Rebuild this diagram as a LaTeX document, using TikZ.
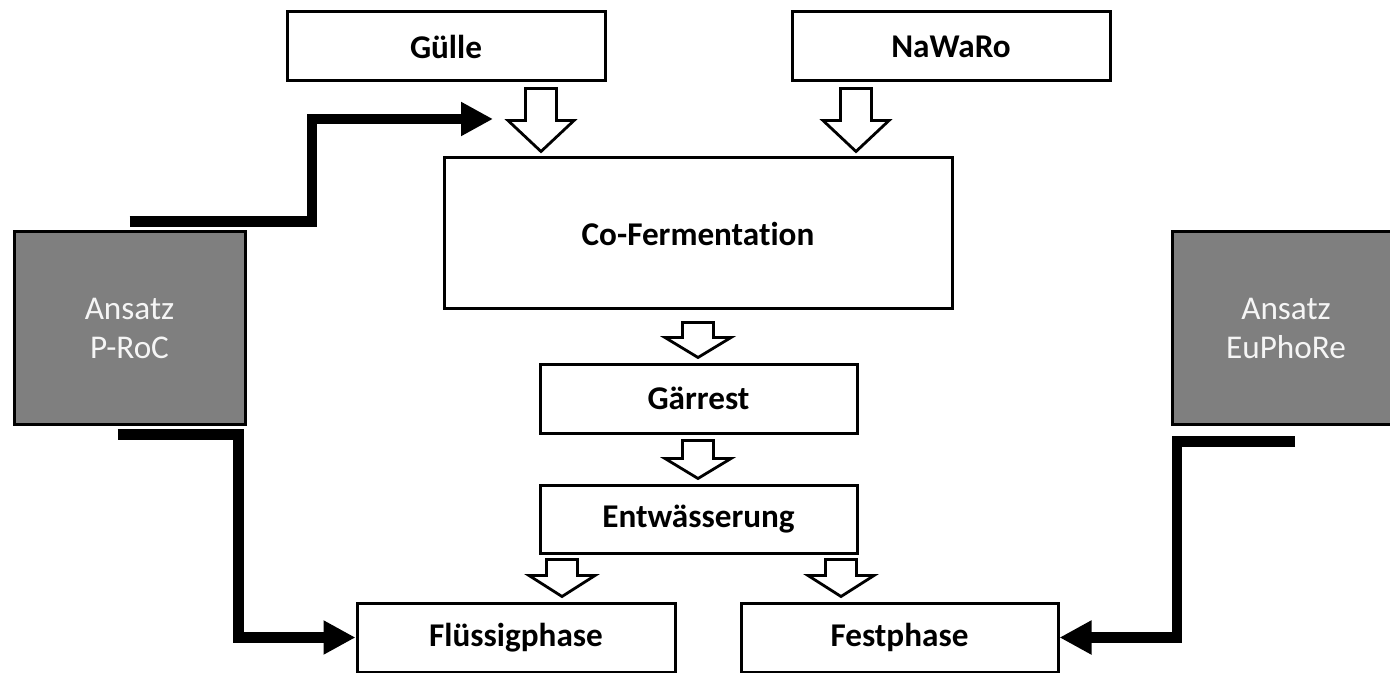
\documentclass[tikz,border=0pt]{standalone}
\usepackage{fontspec}
\setmainfont{Carlito}[Ligatures=NoCommon]
\usetikzlibrary{calc,arrows.meta}
\definecolor{ansatzgray}{RGB}{127,127,127}
\definecolor{ansatztext}{RGB}{245,245,245}
% hollow block arrow: from node, to node, x position, gap at top, head length
\newcommand\hollowarrow[5]{%
  \path (#1.south -| #3) ++(0,#4) coordinate (ha a) (#2.north -| #3) ++(0,-5) coordinate (ha b);
  \draw[hollow] ($(ha a)+(-15.5,0)$) -- ($(ha a)+(15.5,0)$) -- ($(ha b)+(15.5,-#5)$) -- ($(ha b)+(33,-#5)$)
    -- (ha b) -- ($(ha b)+(-33,-#5)$) -- ($(ha b)+(-15.5,-#5)$) -- cycle;}
\begin{document}
\begin{tikzpicture}[x=0.5pt, y=-0.5pt, line join=miter,
  box/.style={draw, line width=1.5pt, fill=white, inner sep=0pt, font=\fontsize{16.6}{19.5}\selectfont\bfseries},
  ansatz/.style={draw, line width=1.5pt, fill=ansatzgray, text=ansatztext, align=center, inner sep=0pt,
    minimum height=96pt, font=\fontsize{16.6}{19.5}\selectfont},
  hollow/.style={line width=1.4pt, fill=white},
  feed/.style={line width=5.25pt, -{Triangle[length=16pt,width=16pt]}}]
\useasboundingbox (0,0) rectangle (1390,673);

\node[box, minimum width=159pt, minimum height=34.5pt] (guelle) at (446,46.5) {Gülle};
\node[box, minimum width=159pt, minimum height=34.5pt] (nawaro) at (951,46.5) {NaWaRo};
\node[box, minimum width=254pt, minimum height=75.5pt] (cofer) at (698,233.5) {Co-Fermentation};
\node[box, minimum width=158.5pt, minimum height=34.5pt] (gaerrest) at (698.5,398.5) {Gärrest};
\node[box, minimum width=158.5pt, minimum height=34pt] (entw) at (698.5,519) {Entwässerung};
\node[box, minimum width=159pt, minimum height=34.5pt] (fluessig) at (516,637.5) {Flüssigphase};
\node[box, minimum width=158.5pt, minimum height=34.5pt] (fest) at (899.5,637.5) {Festphase};
\node[ansatz, minimum width=115.5pt] (proc) at (129.5,328) {Ansatz\\P-RoC};
\node[ansatz, minimum width=114pt] (euphore) at (1286,328) {Ansatz\\EuPhoRe};

\coordinate (xg) at (541,0);
\coordinate (xn) at (856,0);
\coordinate (xm) at (698,0);
\coordinate (xl) at (562,0);
\coordinate (xr) at (841,0);
\hollowarrow{guelle}{cofer}{xg}{6}{31}
\hollowarrow{nawaro}{cofer}{xn}{6}{31}
\hollowarrow{cofer}{gaerrest}{xm}{12}{20}
\hollowarrow{gaerrest}{entw}{xm}{6}{20}
\hollowarrow{entw}{fluessig}{xl}{5}{21}
\hollowarrow{entw}{fest}{xr}{5}{21}

\coordinate (feedend) at (493,119);
\draw[feed] ($(proc.north)+(0,-9)$) -- ++(182.5,0) |- (feedend);
\draw[feed] ($(proc.south)+(-12,9)$) -- ++(121,0) |- (fluessig.west);
\draw[feed] ($(euphore.south)+(9,16)$) -- ++(-118,0) |- (fest.east);
\end{tikzpicture}
\end{document}
